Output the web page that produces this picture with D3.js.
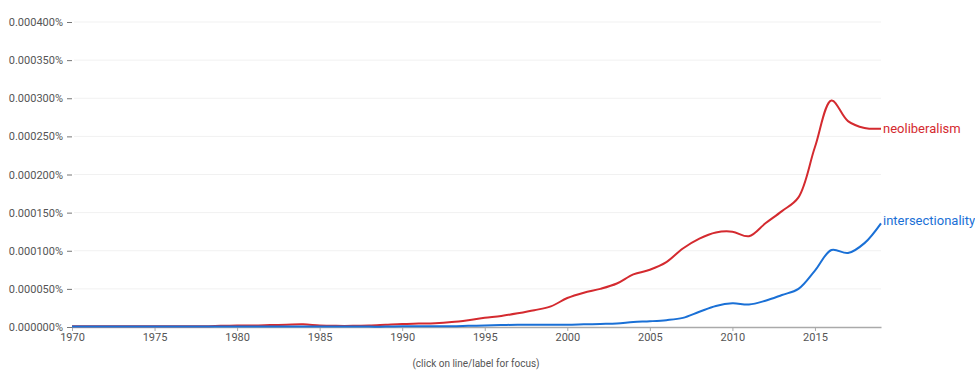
<!DOCTYPE html>
<html>
<head>
<meta charset="utf-8">
<script src="https://cdn.jsdelivr.net/npm/d3@7"></script>
<style>
  body { margin: 0; background: #fff; }
  text { font-family: Roboto, "Noto Sans", sans-serif; }
</style>
</head>
<body>
<script>
const WIDTH = 975;
const HEIGHT = 378;

// years and values (in units of 0.000001 %)
const years = d3.range(1970, 2020);
const neoliberalism = [
  1, 1, 1, 1, 1, 1, 1, 1, 1, 1.5,
  2, 2, 2.5, 3, 3.5, 2, 1.5, 1.5, 2, 3,
  4, 4.5, 5, 6.5, 9, 12, 14.5, 18, 22, 27,
  38, 45, 50, 57, 69, 75, 85, 103, 116, 124,
  125, 119, 136, 152, 170, 236, 297, 270, 261, 260
];
const intersectionality = [
  0.5, 0.5, 0.5, 0.5, 0.5, 0.5, 0.5, 0.5, 0.5, 0.5,
  0.5, 0.5, 0.5, 0.5, 0.5, 0.5, 0.5, 0.5, 0.5, 0.5,
  1, 1, 1, 1, 1.5, 2, 2.5, 3, 3, 3,
  3, 3.5, 4, 4.5, 6.5, 7.5, 9, 12, 20, 27.5,
  31, 29.5, 34.5, 42, 50, 74, 101, 97, 110, 136
];
const yTicks = [0, 50, 100, 150, 200, 250, 300, 350, 400];
const xTicks = [1970, 1975, 1980, 1985, 1990, 1995, 2000, 2005, 2010, 2015];

const series = [
  { name: "neoliberalism", values: neoliberalism, color: "#d42a2f", labelDy: 0 },
  { name: "intersectionality", values: intersectionality, color: "#1a70d6", labelDy: -3 }
];

const x = d3.scaleLinear().domain([1970, 2019]).range([72, 881]);
const y = d3.scaleLinear().domain([0, 400]).range([327, 22]);

const SVG = d3.select("body").append("svg")
  .attr("width", WIDTH)
  .attr("height", HEIGHT);

// grid
SVG.append("g")
  .selectAll("line")
  .data(yTicks.slice(1))
  .join("line")
  .attr("x1", 74).attr("x2", 881)
  .attr("y1", d => y(d)).attr("y2", d => y(d))
  .attr("stroke", "#f1f1f1");

// y axis
const yAxis = SVG.append("g")
  .attr("transform", "translate(72,0)")
  .call(d3.axisLeft(y).tickValues(yTicks).tickSize(5).tickPadding(4)
    .tickFormat(d => (d / 1e6).toFixed(6) + "%"));
yAxis.select(".domain").remove();
yAxis.selectAll("line").attr("stroke", "#777");
yAxis.selectAll("text").attr("fill", "#555").style("font-size", "11px");

// x axis
const xAxis = SVG.append("g")
  .attr("transform", "translate(0,327)")
  .call(d3.axisBottom(x).tickValues(xTicks).tickSize(4).tickPadding(2)
    .tickFormat(d3.format("d")).tickSizeOuter(0));
xAxis.select(".domain").attr("stroke", "#aaa").attr("stroke-width", 1.5);
xAxis.selectAll("line").attr("stroke", "#aaa");
xAxis.selectAll("text").attr("fill", "#555").style("font-size", "11px");

// lines
const line = d3.line()
  .x((d, i) => x(years[i]))
  .y(d => y(d))
  .curve(d3.curveCatmullRom.alpha(0.5));

SVG.append("g")
  .selectAll("path")
  .data(series)
  .join("path")
  .attr("fill", "none")
  .attr("stroke", d => d.color)
  .attr("stroke-width", 2)
  .attr("d", d => line(d.values));

SVG.append("g")
  .selectAll("text")
  .data(series)
  .join("text")
  .attr("x", x(2019) + 2)
  .attr("y", d => y(d.values[d.values.length - 1]) + d.labelDy)
  .attr("dy", "0.35em")
  .attr("fill", d => d.color)
  .style("font-size", "13px")
  .text(d => d.name);

SVG.append("text")
  .attr("x", 476)
  .attr("y", 363)
  .attr("dy", "0.35em")
  .attr("text-anchor", "middle")
  .attr("fill", "#555")
  .style("font-size", "10px")
  .text("(click on line/label for focus)");
</script>
</body>
</html>
